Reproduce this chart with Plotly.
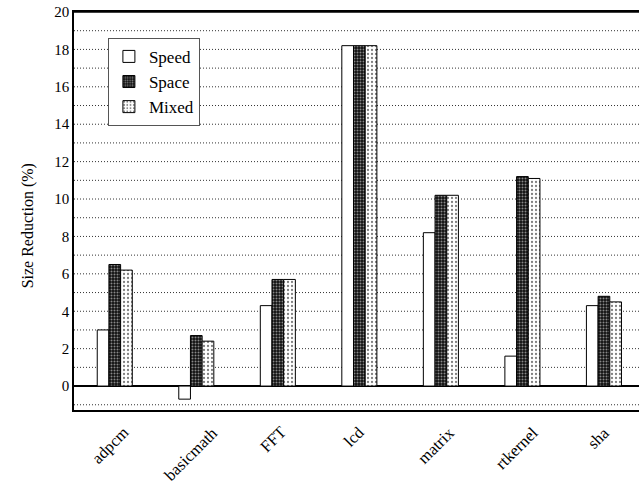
import plotly.graph_objects as go

categories = ["adpcm", "basicmath", "FFT", "lcd", "matrix", "rtkernel", "sha"]
speed = [3.0, -0.7, 4.3, 18.2, 8.2, 1.6, 4.3]
space = [6.5, 2.7, 5.7, 18.2, 10.2, 11.2, 4.8]
mixed = [6.2, 2.4, 5.7, 18.2, 10.2, 11.1, 4.5]
y_ticks = list(range(0, 21, 2))
grid_values = [-1] + list(range(1, 20))
y_title = "Size Reduction (%)"

font = "Liberation Serif"

fig = go.Figure()
fig.add_trace(go.Bar(name="Speed", x=categories, y=speed,
                     marker=dict(color="white", line=dict(color="black", width=1))))
fig.add_trace(go.Bar(name="Space", x=categories, y=space,
                     marker=dict(color="black", line=dict(color="black", width=1),
                                 pattern=dict(shape=".", bgcolor="#111111", fgcolor="white",
                                              size=3, solidity=0.35, fillmode="overlay"))))
fig.add_trace(go.Bar(name="Mixed", x=categories, y=mixed,
                     marker=dict(color="white", line=dict(color="black", width=1),
                                 pattern=dict(shape=".", bgcolor="white", fgcolor="black",
                                              size=4, solidity=0.25, fillmode="overlay"))))

fig.update_layout(
    width=639, height=487,
    margin=dict(l=74, r=0, t=12, b=77, autoexpand=False),
    paper_bgcolor="white", plot_bgcolor="white",
    barmode="group", bargap=0.57, bargroupgap=0,
    font=dict(family=font, size=15, color="black"),
    showlegend=True,
    legend=dict(x=0.06, y=0.935, xanchor="left", yanchor="top",
                bordercolor="#555555", borderwidth=1, bgcolor="white",
                font=dict(size=17, family=font), itemwidth=30,
                tracegroupgap=0),
    xaxis=dict(range=[-0.5, 6.43], showline=True, linecolor="black", linewidth=1.5,
               mirror=True, ticks="", showticklabels=False,
               showgrid=False, automargin=False),
    yaxis=dict(range=[-1.28, 20], showline=True, linecolor="black", linewidth=1.5,
               mirror=False, tickvals=y_ticks, ticks="", showgrid=False,
               zeroline=True, zerolinecolor="black", zerolinewidth=1.5,
               tickfont=dict(size=15, family=font), automargin=False),
)

# category labels rotated about their centre, top-aligned below the axis
for c in categories:
    fig.add_annotation(x=c, xref="x", y=-0.025, yref="paper", text=c, textangle=-45,
                       showarrow=False, xanchor="center", yanchor="top", xshift=-5,
                       font=dict(size=16.5, family=font, color="black"))

fig.add_annotation(x=-0.081, xref="paper", y=0.462, yref="paper", text=y_title,
                   textangle=-90, showarrow=False, xanchor="center", yanchor="middle",
                   font=dict(size=16, family=font, color="black"))

for v in grid_values:
    fig.add_shape(type="line", xref="paper", x0=0, x1=1, yref="y", y0=v, y1=v,
                  line=dict(color="#333333", width=1, dash="1px,2px"), layer="below")
fig.add_shape(type="line", xref="paper", x0=0, x1=1, yref="y", y0=20, y1=20,
              line=dict(color="black", width=1.5))

fig.write_html("out.html", config={"displayModeBar": False},
               post_script="document.body.style.margin='0';document.body.style.overflow='hidden';")
